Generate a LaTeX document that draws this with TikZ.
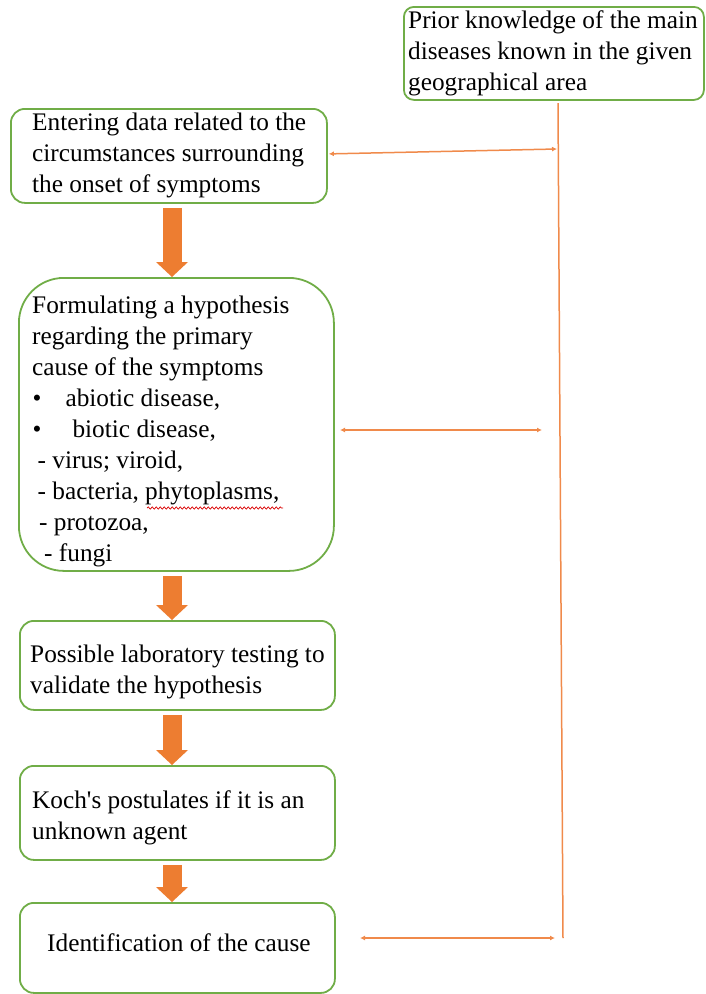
\documentclass[tikz,border=0pt]{standalone}
\usepackage{fontspec}
\newfontfamily\diagfont{Liberation Serif}
\usetikzlibrary{arrows.meta,calc,decorations.pathmorphing}
\definecolor{boxgreen}{HTML}{70AD47}
\definecolor{flow}{HTML}{ED7D31}
\definecolor{linkor}{HTML}{F08A4B}
\begin{document}
\begin{tikzpicture}[x=1pt,y=-1pt,
  box/.style={draw=boxgreen, line width=1.8pt, rounded corners=#1,
    inner sep=0pt, anchor=north west},
  box/.default=14pt,
  txt/.style={anchor=west, align=left, inner sep=0pt,
    font=\diagfont\fontsize{25.3}{31}\selectfont},
  bigarrow/.style={draw=flow, line width=19pt,
    -{Triangle[length=15pt,width=32pt,line width=0pt]}, shorten <=4pt},
  linkline/.style={draw=linkor, line width=1.5pt},
  linkarrow/.style={linkline, {Latex[length=5pt,width=5pt]}-{Latex[length=5pt,width=5pt]}},
  spell/.style={draw=red!85!black, line width=0.7pt, decorate,
    decoration={snake, amplitude=1.1pt, segment length=4pt}}]
\useasboundingbox (0,0) rectangle (705,994);

% boxes
\node[box=10pt, minimum width=300pt, minimum height=93pt] (b0) at (403,6) {};
\node[box, minimum width=316pt, minimum height=94pt] (b1) at (10,108) {};
\node[box=45pt, minimum width=315pt, minimum height=293pt] (b2) at (18,277) {};
\node[box, minimum width=315pt, minimum height=89pt] (b3) at (19,620) {};
\node[box, minimum width=315pt, minimum height=94pt] (b4) at (19,765) {};
\node[box, minimum width=315pt, minimum height=90pt] (b5) at (19,902) {};

% texts
\node[txt] (t0) at ($(b0.west)+(5,0)$) {Prior knowledge of the main\\diseases known in the given\\geographical area};
\node[txt] (t1) at ($(b1.west)+(22,0)$) {Entering data related to the\\circumstances surrounding\\the onset of symptoms};
\node[txt] (t2) at ($(b2.west)+(14,7)$) {Formulating a hypothesis\\regarding the primary\\cause of the symptoms\\
  \hspace*{0.5pt}•\hspace*{24pt}abiotic disease,\\
  \hspace*{0.5pt}•\hspace*{31pt}biotic disease,\\
  \hspace*{5.5pt}- virus; viroid,\\
  \hspace*{5.5pt}- bacteria, phytoplasms,\\
  \hspace*{7pt}- protozoa,\\
  \hspace*{12pt}- fungi};
\node[txt] (t3) at ($(b3.west)+(11,7)$) {Possible laboratory testing to\\validate the hypothesis};
\node[txt] (t4) at ($(b4.west)+(13,5)$) {Koch's postulates if it is an\\unknown agent};
\node[txt] (t5) at ($(b5.west)+(28,-5)$) {Identification of the cause};

% spell-check squiggle under "phytoplasms,"
\coordinate (w1) at (147,508);
\coordinate (w2) at (283,508);
\draw[spell] (w1) -- (w2);

% main flow
\coordinate (ax) at (172,0);
\draw[bigarrow] (b1.south -| ax) -- (b2.north -| ax);
\draw[bigarrow] (b2.south -| ax) -- (b3.north -| ax);
\draw[bigarrow] (b3.south -| ax) -- (b4.north -| ax);
\draw[bigarrow] (b4.south -| ax) -- (b5.north -| ax);

% feedback from prior knowledge
\coordinate (vtop) at (558,103);
\coordinate (vbot) at (563,938);
\draw[linkline] (vtop) -- (vbot);
\coordinate (r1) at (557,149);
\draw[linkarrow] ($(b1.east)+(1,-2)$) -- (r1);
\coordinate (l2) at (340,430);
\coordinate (r2) at (542,430);
\draw[linkarrow] (l2) -- (r2);
\coordinate (l3) at (360,938);
\coordinate (r3) at (555,938);
\draw[linkarrow] (l3) -- (r3);
\end{tikzpicture}
\end{document}
